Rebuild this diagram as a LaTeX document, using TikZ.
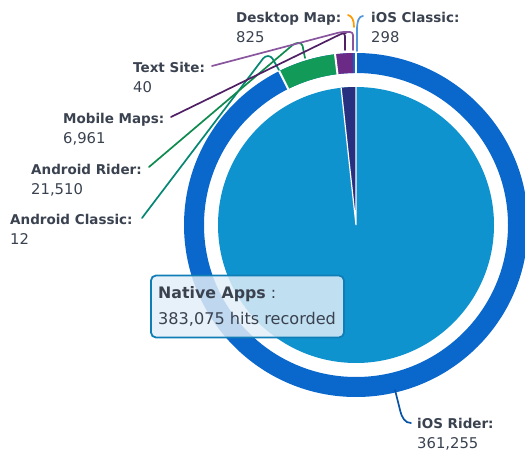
\documentclass[tikz,border=0pt]{standalone}
\usepackage{fontspec}
\usetikzlibrary{calc}
\setmainfont{DejaVu Sans}
\definecolor{ringblue}{HTML}{0A68CC}
\definecolor{pieblue}{HTML}{0F93CF}
\definecolor{navy}{HTML}{27307F}
\definecolor{plum}{HTML}{6B2A86}
\definecolor{leaf}{HTML}{129A58}
\definecolor{txt}{HTML}{3A4250}
\definecolor{tipedge}{HTML}{0F7DB6}
\definecolor{tipfill}{HTML}{E2EEF8}
\newcommand{\lab}[2]{{\textbf{#1}}\\{\fontsize{14.8}{20}\selectfont #2}}
\tikzset{
  lbl/.style={inner sep=0pt,anchor=north west,align=left,text=txt,font=\fontsize{13.5}{20}\selectfont},
  conn/.style={line width=1.7pt,line cap=round,line join=round,rounded corners=3pt},
  curv/.style={line width=1.7pt,line cap=round},
  sep/.style={draw=white,line width=2pt},
  tip/.style={draw=tipedge,line width=1.8pt,rounded corners=5pt,fill=tipfill,fill opacity=.84,minimum width=193pt,minimum height=62pt,inner sep=0pt}
}
\begin{document}
\begin{tikzpicture}[x=1pt,y=1pt]
\useasboundingbox (0,0) rectangle (525,-452);
\clip (0,0) rectangle (525,-452);
\coordinate (c) at (356,-225);
% outer ring
\fill[ringblue,even odd rule] (c) circle[radius=172] (c) circle[radius=152];
\fill[leaf] ($(c)+(96:172)$) arc[start angle=96,end angle=116.5,radius=172] -- ($(c)+(116.5:152)$) arc[start angle=116.5,end angle=96,radius=152] -- cycle;
\fill[plum] ($(c)+(91:172)$) arc[start angle=91,end angle=97,radius=172] -- ($(c)+(97:152)$) arc[start angle=97,end angle=91,radius=152] -- cycle;
\draw[sep] ($(c)+(90:150)$) -- ($(c)+(90:174)$);
\draw[sep] ($(c)+(97:150)$) -- ($(c)+(97:174)$);
\draw[sep] ($(c)+(116.5:150)$) -- ($(c)+(116.5:174)$);
% inner pie
\fill[pieblue] (c) circle[radius=138];
\fill[navy] (c) -- ($(c)+(90:138)$) arc[start angle=90,end angle=96.2,radius=138] -- cycle;
\draw[draw=white,line width=1.2pt] ($(c)+(96.2:138)$) -- (c) -- ($(c)+(90:138)$);
% labels
\node[lbl] (dm) at (236,-12) {\lab{Desktop Map:}{825}};
\node[lbl] (ic) at (371,-12) {\lab{iOS Classic:}{298}};
\node[lbl] (ts) at (133,-62) {\lab{Text Site:}{40}};
\node[lbl] (mm) at (63,-113) {\lab{Mobile Maps:}{6,961}};
\node[lbl] (ar) at (31,-164) {\lab{Android Rider:}{21,510}};
\node[lbl] (ac) at (10,-214) {\lab{Android Classic:}{12}};
\node[lbl] (ir) at (417,-418) {\lab{iOS Rider:}{361,255}};
\coordinate (dmA) at (348,-15);
\coordinate (icA) at (363,-16);
\coordinate (tsA) at (212,-66);
\coordinate (mmA) at (171,-117);
\coordinate (arA) at (149,-167);
\coordinate (acA) at (142,-218);
\coordinate (irA) at (411,-423);
\coordinate (irB) at (395,-390);
% connectors
\draw[conn,draw=teal!70!leaf] (acA) -- (265,-56) -- (271,-56) -- (279,-70);
\draw[conn,draw=leaf!90!black] (arA) -- (295,-43) -- (302,-43) -- (305,-58);
\draw[conn,draw=plum!75!black] (mmA) -- (343,-33) -- (345,-33) -- (345,-50);
\draw[conn,draw=plum!80!white] (tsA) -- (341,-32) -- (353,-32) -- (353,-50);
\draw[curv,draw=orange!80!yellow] (dmA) .. controls (352,-16) and (354,-20) .. (354,-27);
\draw[curv,draw=ringblue!70!white] (icA) .. controls (359,-16) and (357,-21) .. (357,-30) -- (357,-51);
\draw[curv,draw=ringblue!80!black] (irB) -- (400,-410) .. controls (402,-418) and (405,-423) .. (irA);
% tooltip
\node[tip] (tt) at (247.5,-306.5) {};
\node[inner sep=0pt,anchor=north west,align=left,text=txt,font=\fontsize{15.8}{26}\selectfont] (ttl) at (158,-286) {\textbf{Native Apps} :\\{\fontsize{16.1}{26}\selectfont 383,075 hits recorded}};
\end{tikzpicture}
\end{document}
